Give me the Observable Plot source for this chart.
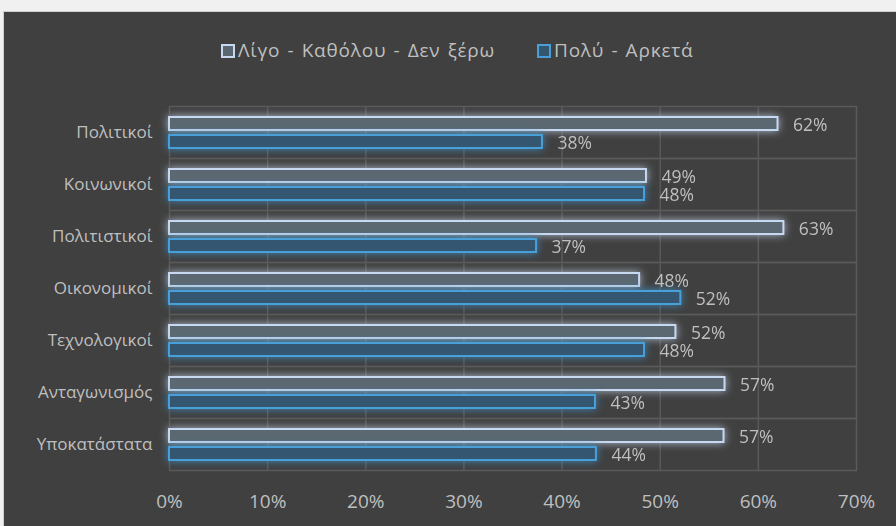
<!DOCTYPE html>
<html>
<head>
<meta charset="utf-8">
<script src="https://cdn.jsdelivr.net/npm/d3@7"></script>
<script src="https://cdn.jsdelivr.net/npm/@observablehq/plot@0.6"></script>
<style>
  html, body { margin: 0; padding: 0; }
  body { width: 896px; height: 526px; background: #f0f0f0; position: relative; overflow: hidden; font-family: "Open Sans", "Noto Sans", sans-serif; }
  #panel { position: absolute; left: 3px; top: 11px; width: 893px; height: 515px; background: #404040; border-top: 1px solid #cfcfcf; border-left: 1px solid #cfcfcf; box-sizing: border-box; }
  #chart { position: absolute; left: 0; top: 0; }
  .leg { position: absolute; top: 37px; font-size: 19px; color: #bfbfbf; line-height: 26px; white-space: nowrap; letter-spacing: 0.8px; word-spacing: 1.5px; }
  .sw { display: inline-block; width: 10px; height: 10px; border: 2px solid; margin-right: 3px; vertical-align: -1px; }
</style>
</head>
<body>
<div id="panel"></div>
<div id="chart"></div>
<div class="leg" id="leg1" style="left:221px"><span class="sw" style="border-color:#c6d9f0;background:#5b6670"></span>Λίγο - Καθόλου - Δεν ξέρω</div>
<div class="leg" id="leg2" style="left:537px"><span class="sw" style="border-color:#4a9fd8;background:#34566f"></span>Πολύ - Αρκετά</div>
<script>
const categories = ["Πολιτικοί", "Κοινωνικοί", "Πολιτιστικοί", "Οικονομικοί", "Τεχνολογικοί", "Ανταγωνισμός", "Υποκατάστατα"];
const seriesNames = ["Λίγο - Καθόλου - Δεν ξέρω", "Πολύ - Αρκετά"];
const lowValues = [62.0, 48.6, 62.6, 47.9, 51.6, 56.6, 56.5];
const highValues = [38.0, 48.4, 37.4, 52.1, 48.4, 43.4, 43.5];
const xTicks = [0, 10, 20, 30, 40, 50, 60, 70];

const rows = [];
categories.forEach((c, i) => {
  rows.push({category: c, series: seriesNames[0], value: lowValues[i]});
  rows.push({category: c, series: seriesNames[1], value: highValues[i]});
});
const s1 = rows.filter(d => d.series === seriesNames[0]);
const s2 = rows.filter(d => d.series === seriesNames[1]);

const gridColor = "#5a5a5a";
const textColor = "#bfbfbf";

const plot = Plot.plot({
  width: 896,
  height: 526,
  marginLeft: 169,
  marginRight: 40,
  marginTop: 103,
  marginBottom: 53,
  style: {background: "transparent", color: textColor, fontSize: "17px", fontFamily: "'Open Sans', 'Noto Sans', sans-serif", overflow: "visible"},
  x: {domain: [0, 70], ticks: xTicks, tickFormat: d => d + "%", tickSize: 0, tickPadding: 24, label: null},
  y: {domain: seriesNames, axis: null, paddingInner: 0.28, paddingOuter: 0.58},
  fy: {domain: categories, padding: 0, tickSize: 0, tickPadding: 17, label: null},
  marks: [
    Plot.gridX(xTicks.slice(1, -1), {stroke: gridColor, strokeOpacity: 1, strokeWidth: 1.5}),
    Plot.frame({stroke: gridColor, strokeWidth: 1.5}),
    Plot.barX(s1, {x: "value", y: "series", fy: "category", fill: "#5c6771", stroke: "#c6d9f0", strokeWidth: 2}),
    Plot.barX(s2, {x: "value", y: "series", fy: "category", fill: "#34566f", stroke: "#4a9fd8", strokeWidth: 2}),
    Plot.text(rows, {x: "value", y: "series", fy: "category", text: d => Math.round(d.value) + "%", dx: 15, dy: 1.5, textAnchor: "start", fill: textColor, fontSize: 17.5})
  ]
});

const svg = d3.select(plot);
svg.selectAll("g[aria-label='x-axis tick label']").attr("font-size", 19);
const defs = svg.insert("defs", ":first-child");
function glow(id, color) {
  const f = defs.append("filter").attr("id", id).attr("filterUnits", "userSpaceOnUse").attr("x", 0).attr("y", 0).attr("width", 896).attr("height", 526);
  f.append("feGaussianBlur").attr("in", "SourceAlpha").attr("stdDeviation", 4.5).attr("result", "blur");
  f.append("feFlood").attr("flood-color", color).attr("flood-opacity", 0.9).attr("result", "col");
  f.append("feComposite").attr("in", "col").attr("in2", "blur").attr("operator", "in").attr("result", "shadow");
  const m = f.append("feMerge");
  m.append("feMergeNode").attr("in", "shadow");
  m.append("feMergeNode").attr("in", "SourceGraphic");
}
glow("glow1", "#b8c8dc");
glow("glow2", "#3f8ec4");
const barGroups = svg.selectAll("g[aria-label='bar']").nodes();
if (barGroups[0]) d3.select(barGroups[0]).attr("filter", "url(#glow1)");
if (barGroups[1]) d3.select(barGroups[1]).attr("filter", "url(#glow2)");

document.getElementById("chart").appendChild(plot);
</script>
</body>
</html>
